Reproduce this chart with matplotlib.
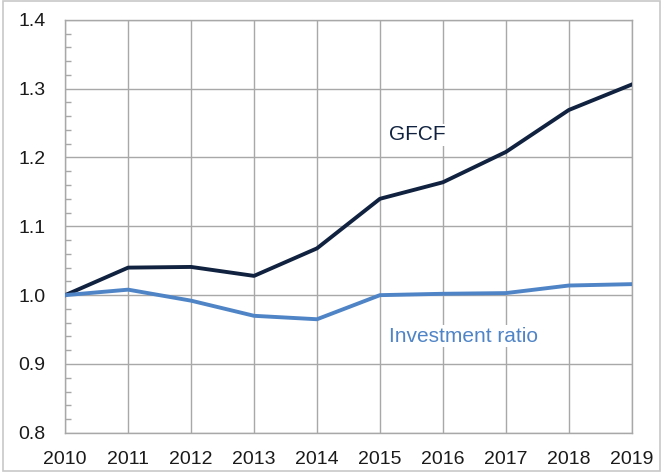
import matplotlib.pyplot as plt
from matplotlib.patches import Rectangle
from matplotlib.ticker import MultipleLocator
from matplotlib import font_manager

names = {f.name for f in font_manager.fontManager.ttflist}
narrow = [n for n in ['Liberation Sans Narrow', 'Arial Narrow'] if n in names]
plt.rcParams['font.family'] = narrow + ['Liberation Sans', 'DejaVu Sans']

# Data (index, 2010 = 1.0)
years = [2010, 2011, 2012, 2013, 2014, 2015, 2016, 2017, 2018, 2019]
gfcf = [1.000, 1.040, 1.041, 1.028, 1.068, 1.140, 1.164, 1.208, 1.269, 1.306]
inv_ratio = [1.000, 1.008, 0.992, 0.970, 0.965, 1.000, 1.002, 1.003, 1.014, 1.016]

dark = "#10223f"
light = "#4f84c6"
grid_col = "#a8a8a8"

fig = plt.figure(figsize=(6.65, 4.72), dpi=100)
ax = fig.add_axes([0.098, 0.083, 0.852, 0.875])

ax.plot(years, gfcf, color=dark, lw=2.8, zorder=3)
ax.plot(years, inv_ratio, color=light, lw=2.8, zorder=3)

ax.set_xlim(2010, 2019)
ax.set_ylim(0.8, 1.4)
ax.set_xticks(years)
ax.set_yticks([0.8, 0.9, 1.0, 1.1, 1.2, 1.3, 1.4])
ax.yaxis.set_minor_locator(MultipleLocator(0.02))
ax.set_yticklabels([f"{v:.1f}" for v in ax.get_yticks()])

ax.grid(True, which="major", color=grid_col, lw=1.0, zorder=1)
for s in ax.spines.values():
    s.set_color(grid_col)
    s.set_linewidth(1.0)

ax.tick_params(axis="both", which="major", length=0, labelsize=14, colors="#1a1a1a")
ax.tick_params(axis="x", which="major", pad=13)
ax.tick_params(axis="y", which="major", pad=14)
ax.tick_params(axis="y", which="minor", direction="in", length=4, color=grid_col, width=1)

ax.text(2015.15, 1.233, "GFCF", color=dark, fontsize=15, va="center", ha="left",
        bbox=dict(facecolor="white", edgecolor="none", pad=1), zorder=4)
ax.text(2015.15, 0.94, "Investment ratio", color=light, fontsize=15, va="center", ha="left",
        bbox=dict(facecolor="white", edgecolor="none", pad=1), zorder=4)

# thin frame around the whole figure
fig.patches.append(Rectangle((0.005, 0.003), 0.988, 0.994, transform=fig.transFigure,
                             fill=False, edgecolor="#c8c8c8", lw=1.2))

fig.savefig("out.png", dpi=100)
